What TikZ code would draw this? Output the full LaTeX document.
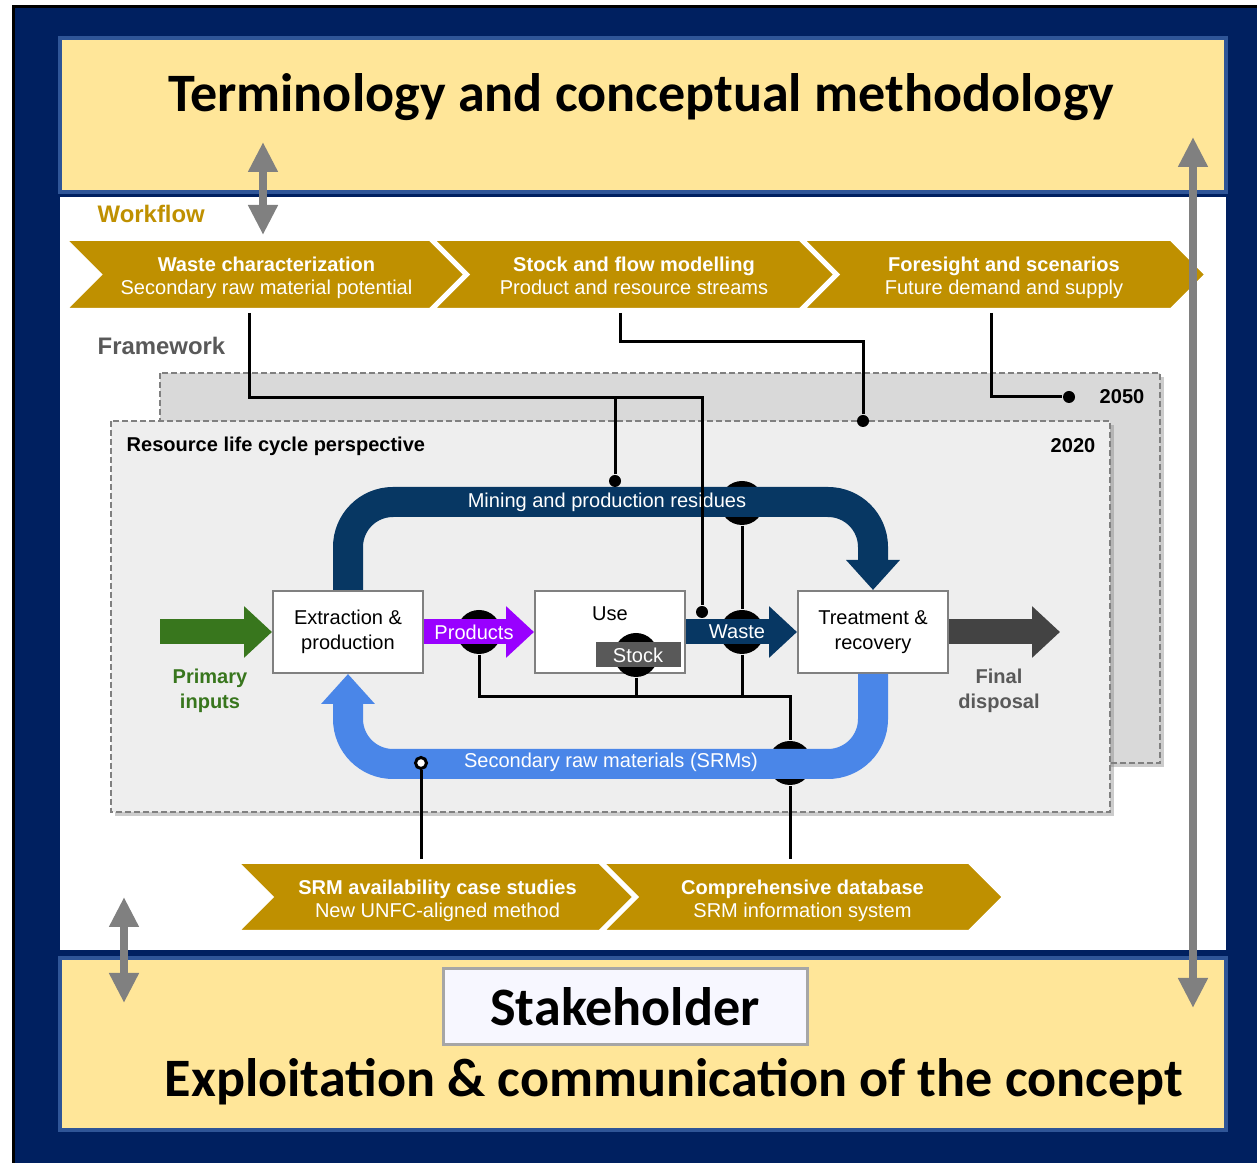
\documentclass[tikz,border=0pt]{standalone}
\usepackage{fontspec}
\setmainfont{Liberation Sans}
\newfontfamily\headfont{Carlito}
\usetikzlibrary{arrows.meta,shapes.symbols,positioning,shadows}

\definecolor{frameblue}{HTML}{002060}
\definecolor{edgeblue}{HTML}{2F5597}
\definecolor{paleyellow}{HTML}{FFE699}
\definecolor{gold}{HTML}{BF9000}
\definecolor{arrowgray}{HTML}{808080}
\definecolor{backpanel}{HTML}{D9D9D9}
\definecolor{frontpanel}{HTML}{EEEEEE}
\definecolor{residue}{HTML}{073763}
\definecolor{srmblue}{HTML}{4A86E8}
\definecolor{prodpurple}{HTML}{9900FF}
\definecolor{primgreen}{HTML}{38761D}
\definecolor{disposal}{HTML}{434343}
\definecolor{stockgray}{HTML}{595959}
\definecolor{labelgray}{HTML}{595959}

\newcommand{\diagfont}{\fontsize{5.7}{7}\selectfont}
\newcommand{\chevfont}{\fontsize{5.7}{6.5}\selectfont}
\newcommand{\headerfont}{\fontsize{6.8}{8}\selectfont\bfseries}
\newcommand{\bigfont}{\headfont\bfseries\fontsize{15.4}{18}\selectfont}
% two lines of a workflow step, bold title over plain subtitle
\newcommand{\steptext}[2]{\rule{0pt}{6.9pt}\textbf{#1}\\#2\strut}

\tikzset{
  ybox/.style={fill=paleyellow, draw=edgeblue, line width=0.4mm},
  chev/.style={signal, signal from=west, signal to=east, fill=gold, draw=white,
    line width=0.5mm, miter limit=2, minimum width=40.7mm, minimum height=7.2mm,
    text=white, align=center, font=\chevfont, inner sep=0},
  panel/.style={draw=gray, line width=0.2mm, dash pattern=on 0.6mm off 0.3mm,
    drop shadow={shadow xshift=0.4mm, shadow yshift=-0.4mm, opacity=0.4}},
  stage/.style={draw=gray, fill=white, line width=0.2mm, minimum width=15mm,
    minimum height=8.2mm, align=center, font=\diagfont, inner sep=0},
  junction/.style={circle, fill=black, minimum size=4.4mm, inner sep=0},
  tapdot/.style={circle, fill=black, minimum size=1.2mm, inner sep=0},
  opendot/.style={circle, draw=black, fill=white, line width=0.3mm, minimum size=1.1mm, inner sep=0},
  link/.style={line width=0.3mm},
  flowarrow/.style={line width=2.5mm, -{Triangle[width=5mm,length=2.8mm]}},
  loopband/.style={line width=3mm, rounded corners=4.5mm, -{Triangle[width=5.2mm,length=3mm]}},
  flowlbl/.style={text=white, font=\diagfont, inner sep=0},
  dblarrow/.style={draw=arrowgray, line width=0.8mm,
    {Triangle[width=2.8mm,length=3mm]}-{Triangle[width=2.8mm,length=3mm]}}
}

\begin{document}
\begin{tikzpicture}[x=0.1mm,y=-0.1mm]
\useasboundingbox (0,0) rectangle (1257,1163);
% frame
\fill[white] (0,0) rectangle (1257,1163);
\fill[black] (12,5) rectangle (1257,1163);
\fill[frameblue] (15,8) rectangle (1257,1163);
\draw[ybox] (60,38) rectangle (1226,192);
\fill[white] (60,197) rectangle (1226,950);
\draw[ybox] (60,958) rectangle (1226,1130);

\node[font=\bigfont] (concept) at (641,97) {Terminology and conceptual methodology};
\node[draw=gray!70, fill=blue!3, line width=0.3mm, minimum width=36.4mm,
  minimum height=7.6mm, font=\bigfont] (stake) at (625,1007) {Stakeholder};
\node[font=\bigfont] (exploit) at (674,1082) {Exploitation \& communication of the concept};

% workflow
\node[anchor=west, text=gold, font=\headerfont, inner sep=0] (wflbl) at (97,214) {Workflow};
\node[chev] (c1) at (266.5,274.5) {\steptext{Waste characterization}{Secondary raw material potential}};
\node[chev] (c2) at (634,274.5) {\steptext{Stock and flow modelling}{Product and resource streams}};
\node[chev] (c3) at (1004,274.5) {\steptext{Foresight and scenarios}{Future demand and supply}};

% framework
\node[anchor=west, text=labelgray, font=\headerfont, inner sep=0] (fwlbl) at (97,346) {Framework};
\filldraw[panel, fill=backpanel] (160,373) rectangle (1160,763);
\node[anchor=east, font=\diagfont\bfseries, inner sep=0] (y2050) at (1145,397) {2050};
\filldraw[panel, fill=frontpanel] (111,421) rectangle (1110,812);
\node[anchor=west, font=\diagfont\bfseries, inner sep=0] (rlc) at (126,446) {Resource life cycle perspective};
\node[anchor=east, font=\diagfont\bfseries, inner sep=0] (y2020) at (1096,446) {2020};

% stages
\node[stage] (extr) at (348,632) {Extraction \&\\production};
\node[stage] (use) at (610,632) {};
\node[below=1.6mm of use.north, font=\diagfont, inner sep=0] (uselbl) {Use};
\node[stage] (treat) at (873,632) {Treatment \&\\recovery};

% junctions sit under the flows
\node[junction] (jstock) at (636,655) {};
\node[fill=stockgray, text=white, font=\diagfont, minimum width=8.5mm,
  minimum height=2.5mm, inner sep=0] (stock) at (638,655) {Stock};
\node[junction] (jprod) at (479,632) {};
\node[junction] (jwaste) at (742,632) {};
\node[junction] (jmine) at (742,503) {};
\node[junction] (jsrm) at (790,763) {};

% flows
\coordinate (pin) at (160,632);
\coordinate (pout) at (1060,632);
\draw[flowarrow, primgreen] (pin) -- (extr.west);
\draw[flowarrow, prodpurple] (extr.east) -- (use.west);
\draw[flowarrow, residue] (use.east) -- (treat.west);
\draw[flowarrow, disposal] (treat.east) -- (pout);
\draw[loopband, residue] (extr.north) -- ++(0,-88) -| (treat.north);
\draw[loopband, srmblue] (treat.south) -- ++(0,90) -| (extr.south);

\node[flowlbl] (prodlbl) at (474,632) {Products};
\node[flowlbl] (wastelbl) at (737,632) {Waste};
\node[flowlbl] (minelbl) at (607,502) {Mining and production residues};
\node[flowlbl] (srmlbl) at (611,762) {Secondary raw materials (SRMs)};
\node[text=primgreen, font=\diagfont\bfseries, align=center] (primlbl) at (210,691) {Primary\\inputs};
\node[text=labelgray, font=\diagfont\bfseries, align=center] (displbl) at (999,691) {Final\\disposal};

% bottom workflow
\node[chev, minimum width=40.5mm, minimum height=7.1mm] (bA) at (437.5,897) {\steptext{SRM availability case studies}{New UNFC-aligned method}};
\node[chev, minimum width=40.5mm, minimum height=7.1mm] (bB) at (802.5,897) {\steptext{Comprehensive database}{SRM information system}};

% links
\node[tapdot] (dA1) at (615,481) {};
\node[tapdot] (dA2) at (702,612) {};
\node[tapdot] (dB) at (863,421) {};
\node[tapdot] (dC) at (1069,397) {};
\node[opendot] (dD) at (421,763) {};
\coordinate (kA) at (702,398);
\coordinate (kB) at (863,342);
\coordinate (kn) at (790,697);
\draw[link] ([xshift=-1.75mm]c1.south) |- (kA) -- (dA2);
\draw[link] (dA1) -- (dA1 |- kA);
\draw[link] ([xshift=-1.4mm]c2.south) |- (kB) -- (dB);
\draw[link] ([xshift=-1.3mm]c3.south) |- (dC);
\draw[link] (jprod) |- (kn) -- (jsrm);
\draw[link] (jstock) -- (jstock |- kn);
\draw[link] (jmine) -- (jwaste);
\draw[link] (jwaste) -- (jwaste |- kn);
\draw[link] (bB.north -| jsrm) -- (jsrm);
\draw[link] (bA.north -| dD) -- (dD);

% exchange arrows
\coordinate (t1) at (263,142);
\coordinate (t2) at (263,235);
\coordinate (r1) at (1193,137);
\coordinate (r2) at (1193,1008);
\coordinate (s1) at (124,897);
\coordinate (s2) at (124,1003);
\draw[dblarrow] (t1) -- (t2);
\draw[dblarrow] (r1) -- (r2);
\draw[dblarrow] (s1) -- (s2);
\end{tikzpicture}
\end{document}
